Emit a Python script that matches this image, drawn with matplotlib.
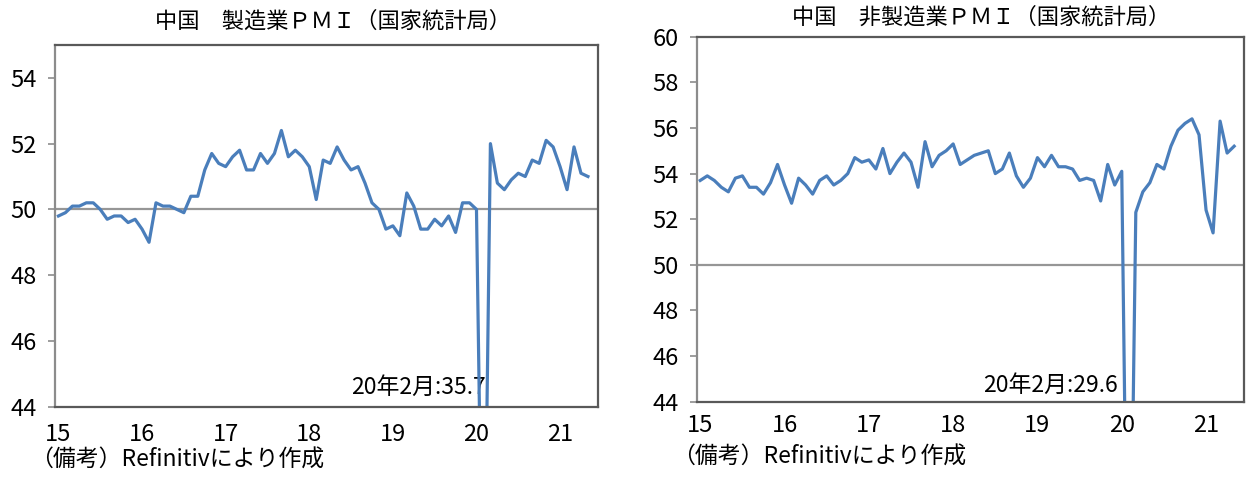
import numpy as np
import matplotlib
matplotlib.use("Agg")
import matplotlib.pyplot as plt

plt.rcParams['font.family'] = ['Noto Sans CJK JP', 'DejaVu Sans']

# monthly data, Jan 2015 - May 2021
mfg_pmi = [49.8, 49.9, 50.1, 50.1, 50.2, 50.2, 50.0, 49.7, 49.8, 49.8, 49.6, 49.7,
           49.4, 49.0, 50.2, 50.1, 50.1, 50.0, 49.9, 50.4, 50.4, 51.2, 51.7, 51.4,
           51.3, 51.6, 51.8, 51.2, 51.2, 51.7, 51.4, 51.7, 52.4, 51.6, 51.8, 51.6,
           51.3, 50.3, 51.5, 51.4, 51.9, 51.5, 51.2, 51.3, 50.8, 50.2, 50.0, 49.4,
           49.5, 49.2, 50.5, 50.1, 49.4, 49.4, 49.7, 49.5, 49.8, 49.3, 50.2, 50.2,
           50.0, 35.7, 52.0, 50.8, 50.6, 50.9, 51.1, 51.0, 51.5, 51.4, 52.1, 51.9,
           51.3, 50.6, 51.9, 51.1, 51.0]
nonmfg_pmi = [53.7, 53.9, 53.7, 53.4, 53.2, 53.8, 53.9, 53.4, 53.4, 53.1, 53.6, 54.4,
              53.5, 52.7, 53.8, 53.5, 53.1, 53.7, 53.9, 53.5, 53.7, 54.0, 54.7, 54.5,
              54.6, 54.2, 55.1, 54.0, 54.5, 54.9, 54.5, 53.4, 55.4, 54.3, 54.8, 55.0,
              55.3, 54.4, 54.6, 54.8, 54.9, 55.0, 54.0, 54.2, 54.9, 53.9, 53.4, 53.8,
              54.7, 54.3, 54.8, 54.3, 54.3, 54.2, 53.7, 53.8, 53.7, 52.8, 54.4, 53.5,
              54.1, 29.6, 52.3, 53.2, 53.6, 54.4, 54.2, 55.2, 55.9, 56.2, 56.4, 55.7,
              52.4, 51.4, 56.3, 54.9, 55.2]
year_labels = ['15', '16', '17', '18', '19', '20', '21']
titles = ['中国　製造業ＰＭＩ（国家統計局）', '中国　非製造業ＰＭＩ（国家統計局）']
note_labels = ['20年2月:35.7', '20年2月:29.6']
source = '（備考）Refinitivにより作成'

line_color = '#4a7ebb'
fig = plt.figure(figsize=(12.52, 4.8), dpi=100)

panels = [
    dict(data=mfg_pmi, rect=[0.0439, 0.1527, 0.4335, 0.7536], ylim=(44, 55),
         yticks=np.arange(44, 55, 2), note_y=44.58, note_dx=0.3, xpad=12,
         title_xy=(0.266, 0.955), src_xy=(0.024, 0.042)),
    dict(data=nonmfg_pmi, rect=[0.5565, 0.1631, 0.4371, 0.7604], ylim=(44, 60),
         yticks=np.arange(44, 61, 2), note_y=44.73, note_dx=-1.5, xpad=9,
         title_xy=(0.784, 0.965), src_xy=(0.537, 0.048)),
]

for i, p in enumerate(panels):
    ax = fig.add_axes(p['rect'])
    vals = p['data']
    x = np.arange(len(vals))
    ax.plot(x, vals, color=line_color, lw=2.3, solid_joinstyle='round')
    ax.axhline(50, color='#969696', lw=1.6, zorder=1)
    ax.set_xlim(-0.5, 77.4)
    ax.set_ylim(*p['ylim'])
    ax.set_yticks(p['yticks'])
    ax.set_yticklabels([str(v) for v in p['yticks']])
    ax.set_xticks(np.arange(len(year_labels)) * 12)
    ax.set_xticklabels(year_labels)
    ax.tick_params(axis='y', direction='out', length=5, width=1.2,
                   color='#8c8c8c', labelsize=17, pad=8)
    ax.tick_params(axis='x', length=0, labelsize=17, pad=p['xpad'])
    for side in ['top', 'right', 'bottom']:
        ax.spines[side].set_color('#595959')
        ax.spines[side].set_linewidth(1.6)
    ax.spines['left'].set_color('#8c8c8c')
    ax.spines['left'].set_linewidth(1.6)

    # label for the Feb 2020 plunge
    imin = int(np.argmin(vals))
    ax.text(imin + p['note_dx'], p['note_y'], note_labels[i], ha='right',
            va='center', fontsize=16.5, zorder=0)

    fig.text(*p['title_xy'], titles[i], ha='center', va='center', fontsize=16)
    fig.text(*p['src_xy'], source, ha='left', va='center', fontsize=16.5)

fig.savefig('out.png', dpi=100)
